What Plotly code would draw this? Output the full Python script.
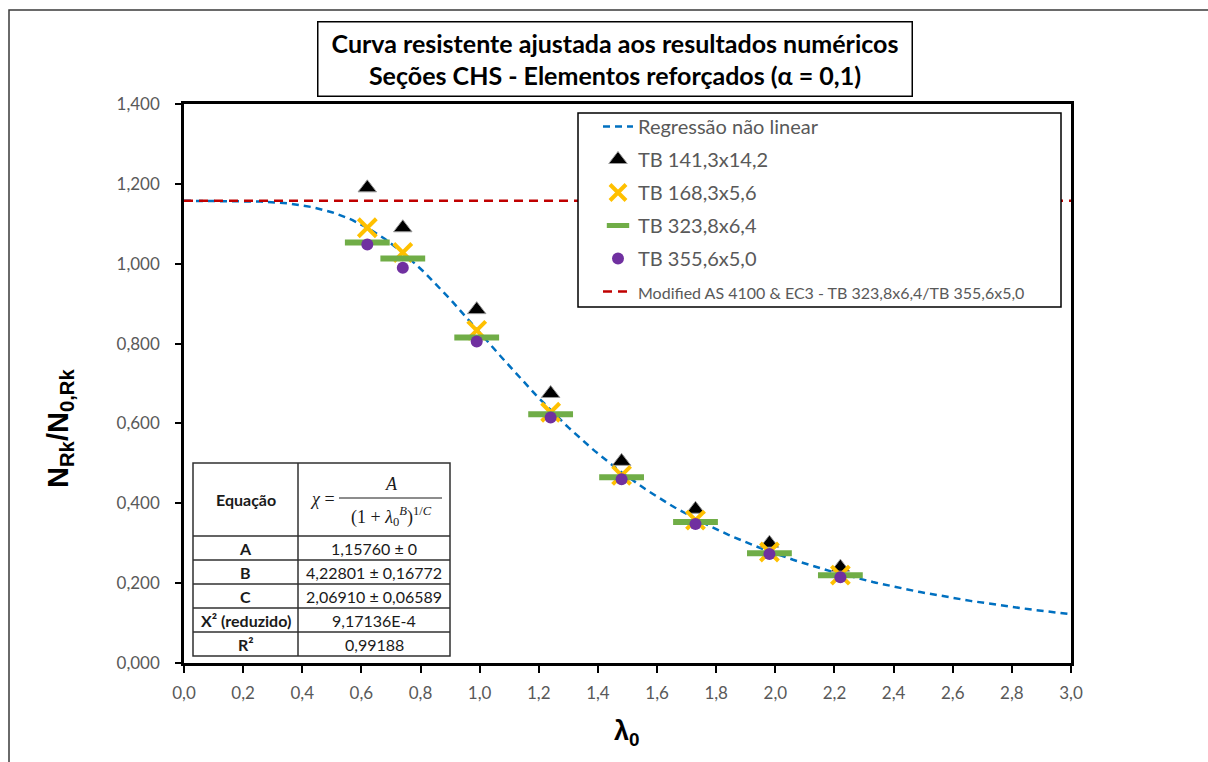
import numpy as np
import plotly.graph_objects as go

# Slenderness values of the numerical models
lam0 = [0.62, 0.74, 0.99, 1.24, 1.48, 1.73, 1.98, 2.22]

# Normalised resistance N_Rk / N_0,Rk per section
tb_141_3x14_2 = [1.190, 1.090, 0.885, 0.675, 0.505, 0.385, 0.300, 0.240]
tb_168_3x5_6 = [1.090, 1.028, 0.833, 0.628, 0.470, 0.358, 0.278, 0.220]
tb_323_8x6_4 = [1.053, 1.013, 0.815, 0.623, 0.465, 0.353, 0.275, 0.220]
tb_355_6x5_0 = [1.048, 0.990, 0.805, 0.615, 0.460, 0.348, 0.273, 0.215]

series_names = ["TB 141,3x14,2", "TB 168,3x5,6", "TB 323,8x6,4", "TB 355,6x5,0"]

# Fitted parameters of chi = A / (1 + lambda0^B)^(1/C)
fit_A, fit_B, fit_C = 1.15760, 4.22801, 2.06910
table_labels = ["A", "B", "C", "X² (reduzido)", "R²"]
table_values = ["1,15760 ± 0", "4,22801 ± 0,16772", "2,06910 ± 0,06589", "9,17136E-4", "0,99188"]

x_range = [0.0, 3.0]
y_range = [0.0, 1.4]

# --- page geometry (pixels) ---
W, H = 1208, 762
L, R, T, B = 184, 1071, 104, 663


def px(x):
    return (x - L) / (R - L)


def py(y):
    return (B - y) / (B - T)


FONT = "Lato"
GREY = "#595959"

lam_curve = np.linspace(x_range[0], x_range[1], 301)
chi_curve = fit_A / (1 + lam_curve ** fit_B) ** (1 / fit_C)

fig = go.Figure()

fig.add_trace(go.Scatter(
    x=lam_curve, y=chi_curve, mode="lines", name="Regressão não linear",
    line=dict(color="#0070C0", width=2.5, dash="7px,5px"), legendgroup="g0",
))
fig.add_trace(go.Scatter(
    x=lam0, y=tb_141_3x14_2, mode="markers", name=series_names[0],
    marker=dict(symbol="triangle-up", size=16, color="black",
                line=dict(color="#9a9a9a", width=1)), legendgroup="g1",
))
fig.add_trace(go.Scatter(
    x=lam0, y=tb_168_3x5_6, mode="markers", name=series_names[1],
    marker=dict(symbol="x-thin", size=18, color="#FFC000",
                line=dict(color="#FFC000", width=4)), legendgroup="g2",
))
fig.add_trace(go.Scatter(
    x=lam0, y=tb_323_8x6_4, mode="markers", name=series_names[2],
    marker=dict(symbol="line-ew", size=32, color="#70AD47",
                line=dict(color="#70AD47", width=6)), legendgroup="g3",
))
fig.add_trace(go.Scatter(
    x=lam0, y=tb_355_6x5_0, mode="markers", name=series_names[3],
    marker=dict(symbol="circle", size=12, color="#7030A0", line=dict(width=0)),
    legendgroup="g4",
))
fig.add_trace(go.Scatter(
    x=x_range, y=[fit_A, fit_A], mode="lines",
    name="<span style='font-size:16px'>Modified AS 4100 &amp; EC3 - TB 323,8x6,4/TB 355,6x5,0</span>",
    line=dict(color="#C00000", width=2.5, dash="9px,6px"), legendgroup="g5",
))

shapes = []
annotations = []

# Outer chart border
shapes.append(dict(type="rect", xref="paper", yref="paper",
                   x0=px(9), x1=px(1400), y0=py(10), y1=py(1000),
                   line=dict(color="#3a3a3a", width=1.5), layer="below"))

# Legend frame
shapes.append(dict(type="rect", xref="paper", yref="paper",
                   x0=px(578), x1=px(1061), y0=py(113), y1=py(307),
                   fillcolor="white", line=dict(color="black", width=1.5), layer="above"))

# Parameter table
tx0, tx1, tcol = 193, 450, 298
row_edges = [463, 536, 560, 584, 608, 632, 656]
shapes.append(dict(type="rect", xref="paper", yref="paper",
                   x0=px(tx0), x1=px(tx1), y0=py(row_edges[0]), y1=py(row_edges[-1]),
                   fillcolor="white", line=dict(color="#303030", width=1.5), layer="above"))
shapes.append(dict(type="line", xref="paper", yref="paper",
                   x0=px(tcol), x1=px(tcol), y0=py(row_edges[0]), y1=py(row_edges[-1]),
                   line=dict(color="#303030", width=1.5), layer="above"))
for ry in row_edges[1:-1]:
    shapes.append(dict(type="line", xref="paper", yref="paper",
                       x0=px(tx0), x1=px(tx1), y0=py(ry), y1=py(ry),
                       line=dict(color="#303030", width=1.5), layer="above"))

cell_font = dict(family=FONT, size=16, color="#1a1a1a")
annotations.append(dict(x=px((tx0 + tcol) / 2), y=py((row_edges[0] + row_edges[1]) / 2),
                        xref="paper", yref="paper", text="<b>Equação</b>", showarrow=False,
                        font=cell_font, xanchor="center", yanchor="middle"))
for i, (lab, val) in enumerate(zip(table_labels, table_values)):
    yc = (row_edges[i + 1] + row_edges[i + 2]) / 2
    annotations.append(dict(x=px((tx0 + tcol) / 2), y=py(yc), xref="paper", yref="paper",
                            text=f"<b>{lab}</b>", showarrow=False, font=cell_font,
                            xanchor="center", yanchor="middle"))
    annotations.append(dict(x=px((tcol + tx1) / 2), y=py(yc), xref="paper", yref="paper",
                            text=val, showarrow=False, font=cell_font,
                            xanchor="center", yanchor="middle"))

# Equation in the header cell
eq_font = dict(family="Liberation Serif", size=18, color="#1a1a1a")
annotations.append(dict(x=px(322), y=py(499), xref="paper", yref="paper",
                        text="<i>χ</i> =", showarrow=False, font=eq_font,
                        xanchor="center", yanchor="middle"))
annotations.append(dict(x=px(391), y=py(484), xref="paper", yref="paper",
                        text="<i>A</i>", showarrow=False, font=eq_font,
                        xanchor="center", yanchor="middle"))
shapes.append(dict(type="line", xref="paper", yref="paper",
                   x0=px(339), x1=px(442), y0=py(498), y1=py(498),
                   line=dict(color="#1a1a1a", width=1), layer="above"))
annotations.append(dict(x=px(391), y=py(516), xref="paper", yref="paper",
                        text="(1 + <i>λ</i><sub>0</sub><sup><i>B</i></sup>)<sup>1/<i>C</i></sup>",
                        showarrow=False, font=eq_font, xanchor="center", yanchor="middle"))

# Chart title box
annotations.append(dict(x=px(614.5), y=py(59.5), xref="paper", yref="paper",
                        text="<b>Curva resistente ajustada aos resultados numéricos</b><br>"
                             "<b>Seções CHS - Elementos reforçados (α = 0,1)</b>",
                        showarrow=False, font=dict(family=FONT, size=25, color="black"),
                        xanchor="center", yanchor="middle", width=591, height=71,
                        bordercolor="black", borderwidth=1.5, bgcolor="white", align="center"))

# Axis titles
annotations.append(dict(x=px(60), y=py(429), xref="paper", yref="paper",
                        text="<b>N<sub>Rk</sub>/N<sub>0,Rk</sub></b>", showarrow=False,
                        textangle=-90, font=dict(family="Liberation Sans", size=29, color="black"),
                        xanchor="center", yanchor="middle"))
annotations.append(dict(x=px(627), y=py(733), xref="paper", yref="paper",
                        text="<b>λ<sub>0</sub></b>", showarrow=False,
                        font=dict(family="Liberation Sans", size=27, color="black"),
                        xanchor="center", yanchor="middle"))

fig.update_layout(
    width=W, height=H,
    margin=dict(l=L, r=W - R, t=T, b=H - B),
    paper_bgcolor="white", plot_bgcolor="white",
    separators=",.",
    shapes=shapes, annotations=annotations,
    showlegend=True,
    legend=dict(x=px(598), y=py(107), xanchor="left", yanchor="top",
                bgcolor="rgba(0,0,0,0)", borderwidth=0,
                font=dict(family=FONT, size=20, color=GREY),
                traceorder="grouped", tracegroupgap=4),
    xaxis=dict(range=x_range, dtick=0.2, tick0=0, tickformat=".1f",
               showgrid=False, zeroline=False, showline=True, mirror=True,
               linecolor="black", linewidth=2.5,
               ticks="outside", ticklen=7, tickwidth=2, tickcolor="black",
               tickfont=dict(family=FONT, size=17, color=GREY), ticklabelstandoff=6),
    yaxis=dict(range=y_range, dtick=0.2, tick0=0, tickformat=".3f",
               showgrid=False, zeroline=False, showline=True, mirror=True,
               linecolor="black", linewidth=2.5,
               ticks="outside", ticklen=6, tickwidth=2, tickcolor="black",
               tickfont=dict(family=FONT, size=17, color=GREY), ticklabelstandoff=12),
)

fig.write_html("out.html")
